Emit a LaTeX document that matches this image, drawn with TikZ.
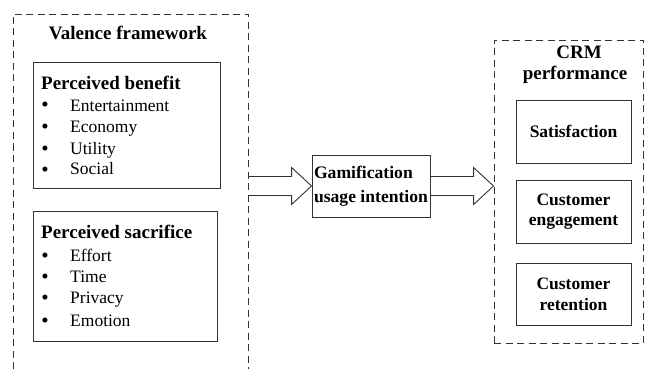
\documentclass[tikz,border=0pt]{standalone}
\usepackage{fontspec}
\setmainfont{Liberation Serif}
\usetikzlibrary{calc}
\tikzset{
  ln/.style={draw=black!80, line width=0.9pt},
  dbox/.style={draw=black!80, line width=0.9pt, dash pattern=on 7pt off 4.5pt},
  hd/.style={font=\fontsize{19}{22}\selectfont\bfseries, inner sep=0pt},
  it/.style={font=\fontsize{17.5}{21}\selectfont, inner sep=0pt},
  bul/.style={font=\fontsize{21}{21}\selectfont, inner sep=0pt},
  bt/.style={font=\fontsize{17.5}{21}\selectfont\bfseries, inner sep=0pt, align=center},
  sbox/.style={draw=black!80, line width=0.9pt, minimum width=115pt, minimum height=63pt, inner sep=0pt},
  arr/.style={draw=black!80, line width=0.9pt, line join=miter}
}
\newcommand\blockarr[2]{\draw[arr] ($(#1)+(0,-9.5)$) -- ($(#2)+(-20,-9.5)$) -- ($(#2)+(-20,-18.5)$) -- (#2) -- ($(#2)+(-20,18.5)$) -- ($(#2)+(-20,9.5)$) -- ($(#1)+(0,9.5)$);}
\begin{document}
\begin{tikzpicture}[x=1pt,y=-1pt]
\useasboundingbox (0,0) rectangle (646,369);
% left dashed frame (open at bottom)
\draw[dbox] (13,369) -- (13,14) -- (248,14) -- (248,369);
\node[hd, anchor=base] (vf) at (128,40) {Valence framework};
% perceived benefit
\node[ln, minimum width=187pt, minimum height=126pt, inner sep=0pt] (pb) at (126.5,125) {};
\node[hd, anchor=base west] (pbt) at (41,90) {Perceived benefit};
\foreach \t/\y [count=\i] in {Entertainment/111, Economy/132, Utility/154, Social/175}{
  \node[bul, anchor=base] (pbb\i) at (45,\y+1) {\textbullet};
  \node[it, anchor=base west] (pbi\i) at (70,\y) {\t};
}
% perceived sacrifice
\node[ln, minimum width=184pt, minimum height=130pt, inner sep=0pt] (ps) at (125,276) {};
\node[hd, anchor=base west] (pst) at (41,238) {Perceived sacrifice};
\foreach \t/\y [count=\i] in {Effort/261, Time/282, Privacy/303, Emotion/326}{
  \node[bul, anchor=base] (psb\i) at (45,\y+1) {\textbullet};
  \node[it, anchor=base west] (psi\i) at (70,\y) {\t};
}
% gamification
\node[ln, minimum width=118pt, minimum height=62pt, inner sep=0pt,
      font=\fontsize{17.6}{24}\selectfont\bfseries, align=left] (gam) at (371,186)
      {Gamification\\usage intention};
% right dashed frame
\node[dbox, minimum width=149pt, minimum height=303pt, inner sep=0pt] (crm) at (568.5,191.5) {};
\node[hd, anchor=base] (crmt1) at (579,59) {CRM};
\node[hd, anchor=base] (crmt2) at (575,80) {performance};
\node[sbox, bt] (sat) at (573.5,131.5) {Satisfaction};
\node[sbox, bt, font=\fontsize{17.5}{20}\selectfont\bfseries] (eng) at (573.5,211.5) {Customer\\engagement};
\node[sbox, bt, minimum height=62pt, font=\fontsize{17.5}{21}\selectfont\bfseries] (ret) at (573.5,294) {Customer\\retention};
% arrows
\coordinate (vfR) at (248,186);
\coordinate (crmW) at (crm.west|-gam.east);
\blockarr{vfR}{gam.west}
\blockarr{gam.east}{crmW}
\end{tikzpicture}
\end{document}
